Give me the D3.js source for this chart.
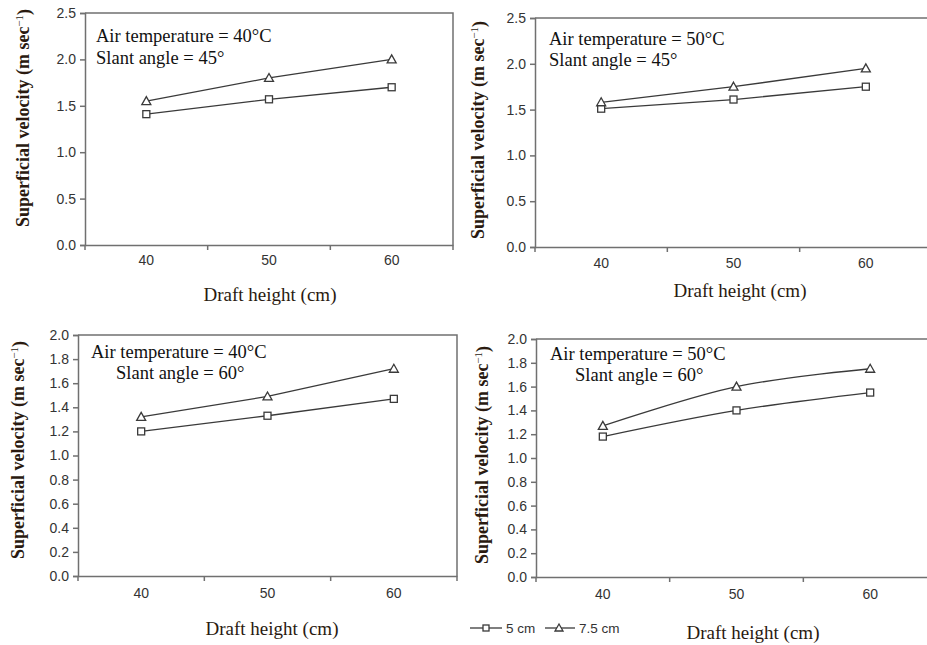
<!DOCTYPE html>
<html><head><meta charset="utf-8">
<script src="https://cdn.jsdelivr.net/npm/d3@7"></script>
<style>body{margin:0;background:#fff}svg{display:block}</style>
</head><body>
<svg id="c" width="927" height="645"></svg>
<script>
const categories = [40, 50, 60];
const seriesNames = ["5 cm", "7.5 cm"];
// Panel values [5 cm, 7.5 cm]
const p1_5cm = [1.41, 1.57, 1.70];
const p1_75cm = [1.55, 1.80, 2.00];
const p2_5cm = [1.51, 1.61, 1.75];
const p2_75cm = [1.58, 1.75, 1.95];
const p3_5cm = [1.20, 1.33, 1.47];
const p3_75cm = [1.32, 1.49, 1.72];
const p4_5cm = [1.18, 1.40, 1.55];
const p4_75cm = [1.27, 1.60, 1.75];
const yTicksA = [0, 0.5, 1.0, 1.5, 2.0, 2.5];
const yTicksB = [0, 0.2, 0.4, 0.6, 0.8, 1.0, 1.2, 1.4, 1.6, 1.8, 2.0];
const annotations = [
  ["Air temperature = 40°C", "Slant angle = 45°"],
  ["Air temperature = 50°C", "Slant angle = 45°"],
  ["Air temperature = 40°C", "Slant angle = 60°"],
  ["Air temperature = 50°C", "Slant angle = 60°"]
];

const panels = [
  {l:85, r:453, t:13, b:245, yMax:2.5, ticks:yTicksA, fmt:d3.format(".1f"), s:[p1_5cm,p1_75cm], curve:d3.curveLinear,
   ann:[[96,42],[96,64]], yt:[23,118], xt:[270,294], tickY:265},
  {l:535, r:932, t:18, b:247, yMax:2.5, ticks:yTicksA, fmt:d3.format(".1f"), s:[p2_5cm,p2_75cm], curve:d3.curveLinear,
   ann:[[549,45],[549,66]], yt:[478,130], xt:[740,290], tickY:268},
  {l:78, r:457, t:335, b:576, yMax:2.0, ticks:yTicksB, fmt:d3.format(".1f"), s:[p3_5cm,p3_75cm], curve:d3.curveLinear,
   ann:[[91,358],[116,379]], yt:[18,450], xt:[272,628], tickY:598},
  {l:536, r:937, t:339, b:577, yMax:2.0, ticks:yTicksB, fmt:d3.format(".1f"), s:[p4_5cm,p4_75cm], curve:d3.curveCatmullRom.alpha(0.5),
   ann:[[550,360],[575,381]], yt:[482,455], xt:[753,632], tickY:599}
];

const svg = d3.select("#c");
const axisColor = "#707070", lineColor = "#3a3a3a", textColor = "#333";
const serif = "'Liberation Serif','Times New Roman',serif";
const sans = "'Liberation Sans',Arial,sans-serif";

panels.forEach((p, i) => {
  const g = svg.append("g");
  const x = d3.scaleBand().domain(categories).range([p.l, p.r]).padding(0);
  const xc = d => x(d) + x.bandwidth()/2;
  const y = d3.scaleLinear().domain([0, p.yMax]).range([p.b, p.t]);

  g.append("path").attr("d", `M${p.l},${p.t}H${p.r}V${p.b}`).attr("fill","none")
    .attr("stroke", axisColor).attr("stroke-width", 1.5);

  const ya = g.append("g").attr("transform", `translate(${p.l},0)`)
    .call(d3.axisLeft(y).tickValues(p.ticks).tickFormat(p.fmt).tickSizeOuter(0).tickSize(5).tickPadding(4));
  ya.select(".domain").attr("stroke", axisColor).attr("stroke-width", 1.5);
  ya.selectAll(".tick line").attr("stroke", axisColor).attr("stroke-width", 1.5);
  ya.selectAll("text").attr("font-family", sans).attr("font-size", 14).attr("fill", textColor);

  const xa = g.append("g").attr("transform", `translate(0,${p.b})`)
    .call(d3.axisBottom(x).tickSize(0).tickPadding(p.tickY - p.b - 10));
  xa.select(".domain").attr("stroke", axisColor).attr("stroke-width", 1.5);
  xa.selectAll("text").attr("font-family", sans).attr("font-size", 14).attr("fill", textColor);
  const bounds = categories.map(c => x(c)).concat([p.r]);
  g.selectAll(".bt").data(bounds).join("line")
    .attr("x1", d => d).attr("x2", d => d).attr("y1", p.b).attr("y2", p.b + 5)
    .attr("stroke", axisColor).attr("stroke-width", 1.5);

  const line = d3.line().x((d, j) => xc(categories[j])).y(d => y(d)).curve(p.curve);
  p.s.forEach((vals, k) => {
    g.append("path").datum(vals).attr("d", line).attr("fill","none")
      .attr("stroke", lineColor).attr("stroke-width", 1.3);
    vals.forEach((v, j) => {
      const cx = xc(categories[j]), cy = y(v);
      if (k === 0) {
        g.append("rect").attr("x", cx-3.5).attr("y", cy-3.5).attr("width", 7).attr("height", 7)
          .attr("fill","#fff").attr("stroke", lineColor).attr("stroke-width", 1.3);
      } else {
        g.append("path").attr("d", `M${cx},${cy-4.5}L${cx+4.5},${cy+3.5}L${cx-4.5},${cy+3.5}Z`)
          .attr("fill","#fff").attr("stroke", lineColor).attr("stroke-width", 1.3);
      }
    });
  });

  annotations[i].forEach((t, j) => {
    g.append("text").attr("x", p.ann[j][0]).attr("y", p.ann[j][1]).text(t)
      .attr("font-family", serif).attr("font-size", 18.5).attr("fill", "#111");
  });

  const yt = g.append("text").attr("transform", `translate(${p.yt[0]},${p.yt[1]}) rotate(-90)`)
    .attr("text-anchor","middle").attr("dy","0.35em")
    .attr("font-family", serif).attr("font-size", 18).attr("font-weight","bold").attr("fill", "#2a1a10");
  yt.append("tspan").text("Superficial velocity (m sec");
  yt.append("tspan").text("−1").attr("font-size", 11).attr("font-weight","normal").attr("dy", "-0.6em");
  yt.append("tspan").text(")").attr("dy", "0.4em");

  g.append("text").attr("x", p.xt[0]).attr("y", p.xt[1]).attr("text-anchor","middle").attr("dy","0.35em")
    .text("Draft height (cm)").attr("font-family", serif).attr("font-size", 19).attr("fill", "#2a1a10");
});

const lg = svg.append("g").attr("transform", "translate(0,628)");
const legendItems = [{x0:470, x1:502, mx:486, tx:506}, {x0:545, x1:575, mx:559, tx:579}];
seriesNames.forEach((n, k) => {
  const it = legendItems[k];
  lg.append("line").attr("x1", it.x0).attr("x2", it.x1).attr("y1", 0).attr("y2", 0)
    .attr("stroke", lineColor).attr("stroke-width", 1.3);
  if (k === 0) {
    lg.append("rect").attr("x", it.mx-3).attr("y", -3).attr("width", 6).attr("height", 6)
      .attr("fill","#fff").attr("stroke", lineColor).attr("stroke-width", 1.3);
  } else {
    lg.append("path").attr("d", `M${it.mx},-4L${it.mx+4},3L${it.mx-4},3Z`)
      .attr("fill","#fff").attr("stroke", lineColor).attr("stroke-width", 1.3);
  }
  lg.append("text").attr("x", it.tx).attr("y", 0).attr("dy","0.35em").text(n)
    .attr("font-family", sans).attr("font-size", 13.5).attr("fill", textColor);
});
</script>
</body></html>
